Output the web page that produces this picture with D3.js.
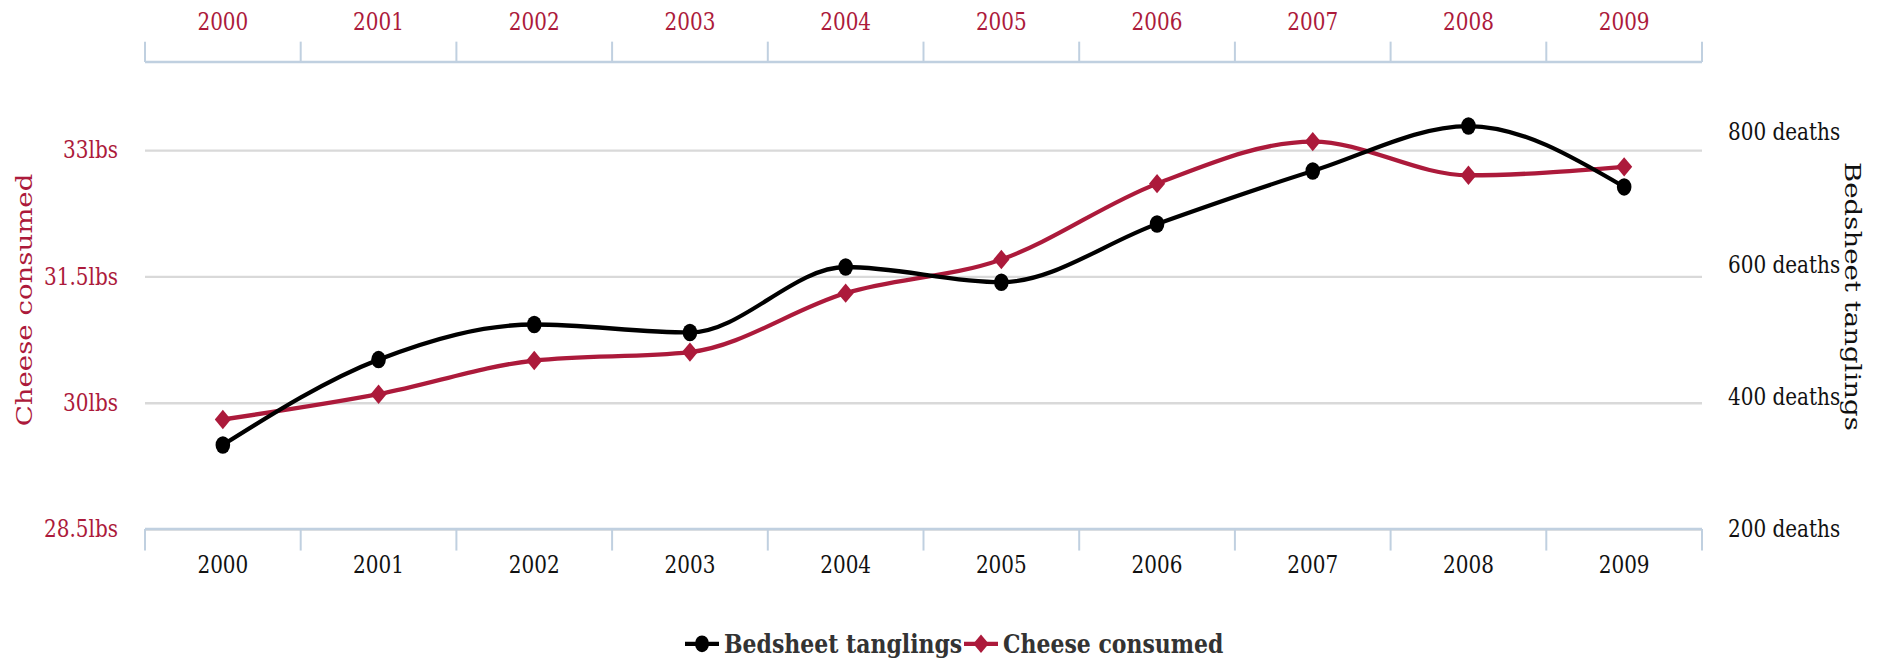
<!DOCTYPE html>
<head>
    <style>
        * { padding: 0; margin: 0; }
        body { background: #fff; }
        svg { display: block; }
        text { font-family: "DejaVu Serif", serif; }
    </style>
    <script src="https://cdn.jsdelivr.net/npm/d3@7"></script>
</head>

<body>
    <script>

        /////////////////////////////////////////////////////
        // DATA
        /////////////////////////////////////////////////////

        const years = ["2000", "2001", "2002", "2003", "2004", "2005", "2006", "2007", "2008", "2009"]
        const bedsheet = [327, 456, 509, 497, 596, 573, 661, 741, 809, 717]
        const cheese = [29.8, 30.1, 30.5, 30.6, 31.3, 31.7, 32.6, 33.1, 32.7, 32.8]
        const cheeseTicks = [28.5, 30, 31.5, 33]
        const deathTicks = [200, 400, 600, 800]

        /////////////////////////////////////////////////////
        // SETUP
        /////////////////////////////////////////////////////

        const W = 1877, H = 659
        //the reference chart is stretched vertically, so draw in a squashed box and let the svg stretch it
        const stretch = 1.2
        const vbH = H / stretch

        const red = "#ac1a3b"
        const axisCol = "#c0d0e0"
        const gridCol = "#d9d9d9"

        const left = 145, right = 1702
        const plotBottom = 440.8, plotTop = 51.7

        const svg = d3.select("body").append("svg")
            .attr("width", W)
            .attr("height", H)
            .attr("viewBox", `0 0 ${W} ${vbH}`)
            .attr("preserveAspectRatio", "none")

        const x = d3.scaleBand().domain(years).range([left, right])
        const xEdge = d3.scaleLinear().domain([0, years.length]).range([left, right])
        const yCheese = d3.scaleLinear().domain([28.5, 33]).range([plotBottom, 125])
        const yDeaths = d3.scaleLinear().domain([200, 800]).range([plotBottom, 110])

        /////////////////////////////////////////////////////
        // GRID + AXES
        /////////////////////////////////////////////////////

        //Horizontal grid lines and left labels
        const gLeft = svg.append("g")
            .attr("transform", `translate(${left},0)`)
            .call(d3.axisLeft(yCheese).tickValues(cheeseTicks).tickSize(-(right - left)).tickPadding(27)
                .tickFormat(d => d + "lbs"))
        gLeft.select(".domain").remove()
        gLeft.selectAll(".tick line").attr("stroke", gridCol).attr("stroke-width", 2)
        gLeft.selectAll(".tick text")
            .attr("fill", red).attr("font-size", 20).attr("font-family", "DejaVu Serif")

        //Right labels (no grid)
        const gRight = svg.append("g")
            .attr("transform", `translate(${right},0)`)
            .call(d3.axisRight(yDeaths).tickValues(deathTicks).tickSize(0).tickPadding(26)
                .tickFormat(d => d + " deaths"))
        gRight.select(".domain").remove()
        gRight.selectAll(".tick text")
            .attr("fill", "#111").attr("font-size", 20).attr("font-family", "DejaVu Serif")

        //Top x axis
        const gTop = svg.append("g").attr("transform", `translate(0,${plotTop})`)
        gTop.append("line").attr("x1", left).attr("x2", right).attr("stroke", axisCol).attr("stroke-width", 2)
        gTop.selectAll(".tk").data(d3.range(years.length + 1)).join("line")
            .attr("x1", d => xEdge(d)).attr("x2", d => xEdge(d))
            .attr("y1", -17).attr("y2", 0)
            .attr("stroke", axisCol).attr("stroke-width", 2)
        gTop.selectAll("text").data(years).join("text")
            .attr("x", d => x(d) + x.bandwidth() / 2)
            .attr("y", -26.7)
            .attr("text-anchor", "middle")
            .attr("fill", red).attr("font-size", 20)
            .text(d => d)

        //Bottom x axis
        const gBot = svg.append("g").attr("transform", `translate(0,${plotBottom})`)
        gBot.append("line").attr("x1", left).attr("x2", right).attr("stroke", axisCol).attr("stroke-width", 2)
        gBot.selectAll(".tk").data(d3.range(years.length + 1)).join("line")
            .attr("x1", d => xEdge(d)).attr("x2", d => xEdge(d))
            .attr("y1", 0).attr("y2", 18)
            .attr("stroke", axisCol).attr("stroke-width", 2)
        gBot.selectAll("text").data(years).join("text")
            .attr("x", d => x(d) + x.bandwidth() / 2)
            .attr("y", 36.7)
            .attr("text-anchor", "middle")
            .attr("fill", "#111").attr("font-size", 20)
            .text(d => d)

        //Axis titles
        svg.append("text")
            .attr("transform", `translate(24,250) rotate(-90)`)
            .attr("text-anchor", "middle").attr("dy", "0.35em")
            .attr("fill", red).attr("font-size", 23)
            .text("Cheese consumed")

        svg.append("text")
            .attr("transform", `translate(1853,247) rotate(90)`)
            .attr("text-anchor", "middle").attr("dy", "0.35em")
            .attr("fill", "#111").attr("font-size", 23)
            .text("Bedsheet tanglings")

        /////////////////////////////////////////////////////
        // LINES + MARKERS
        /////////////////////////////////////////////////////

        const cx = (d, i) => x(years[i]) + x.bandwidth() / 2
        const diamond = d3.symbol(d3.symbolSquare, 130)

        const lineCheese = d3.line().x(cx).y(d => yCheese(d)).curve(d3.curveMonotoneX)
        const lineBed = d3.line().x(cx).y(d => yDeaths(d)).curve(d3.curveMonotoneX)

        svg.append("path").datum(cheese)
            .attr("d", lineCheese)
            .attr("fill", "none").attr("stroke", red).attr("stroke-width", 3.6)

        svg.append("path").datum(bedsheet)
            .attr("d", lineBed)
            .attr("fill", "none").attr("stroke", "#000").attr("stroke-width", 3.6)

        svg.selectAll(".dia").data(cheese).join("path")
            .attr("d", diamond)
            .attr("transform", (d, i) => `translate(${cx(d, i)},${yCheese(d)}) rotate(45)`)
            .attr("fill", red)

        svg.selectAll(".dot").data(bedsheet).join("circle")
            .attr("cx", cx).attr("cy", d => yDeaths(d))
            .attr("r", 7.3)
            .attr("fill", "#000")

        /////////////////////////////////////////////////////
        // LEGEND
        /////////////////////////////////////////////////////

        const legendY = 536.5
        const legendItems = [
            { name: "Bedsheet tanglings", color: "#000", shape: "circle", x: 685 },
            { name: "Cheese consumed", color: red, shape: "diamond", x: 964 }
        ]

        const item = svg.append("g").selectAll("g").data(legendItems).join("g")
            .attr("transform", d => `translate(${d.x},${legendY})`)

        item.append("line").attr("x1", 0).attr("x2", 34)
            .attr("stroke", d => d.color).attr("stroke-width", 3.6)
        item.filter(d => d.shape === "circle").append("circle")
            .attr("cx", 17).attr("r", 7).attr("fill", d => d.color)
        item.filter(d => d.shape === "diamond").append("path")
            .attr("d", d3.symbol(d3.symbolSquare, 120))
            .attr("transform", "translate(17,0) rotate(45)").attr("fill", d => d.color)
        item.append("text")
            .attr("x", 39).attr("dy", "0.36em")
            .attr("font-family", "DejaVu Serif Condensed").attr("font-weight", "bold")
            .attr("font-size", 22).attr("fill", "#333")
            .text(d => d.name)

    </script>
</body>
